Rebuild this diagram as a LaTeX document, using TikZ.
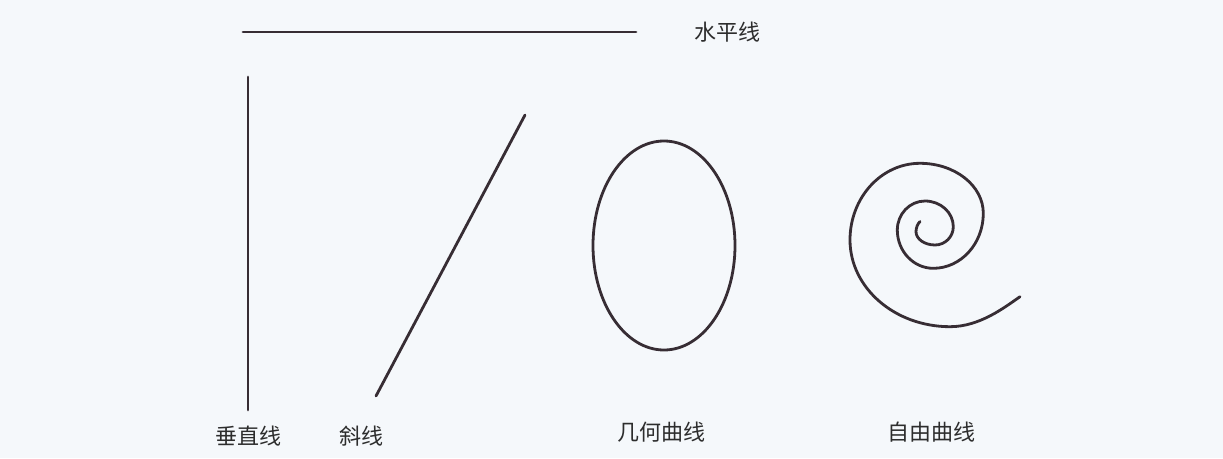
\documentclass[tikz,border=0pt]{standalone}
\usepackage{fontspec}
\newfontfamily\cjk{Noto Sans CJK SC}
\definecolor{bgc}{RGB}{245,248,251}
\definecolor{linec}{RGB}{55,45,52}
\definecolor{textc}{RGB}{45,45,45}
\tikzset{
  stroke/.style={draw=linec, line width=2.8pt, line cap=round},
  lbl/.style={text=textc, font=\cjk\fontsize{22}{22}\selectfont, inner sep=0pt}
}
\begin{document}
\begin{tikzpicture}[x=1pt,y=-1pt]
\fill[bgc] (0,0) rectangle (1223,458);
\useasboundingbox (0,0) rectangle (1223,458);
% horizontal
\draw[stroke] (243,32) -- (636,32);
\node[lbl] (h) at (727,32) {水平线};
% vertical
\draw[stroke] (248,77) -- (248,410);
\node[lbl] (v) at (248,436) {垂直线};
% oblique
\draw[stroke] (376,396) -- (525,115);
\node[lbl] (o) at (361,436) {斜线};
% ellipse
\draw[stroke] (664,245.5) ellipse [x radius=71, y radius=104.5];
\node[lbl] (g) at (661,432) {几何曲线};
% spiral
\draw[stroke] (920,221.5)
  .. controls (917.5,224) and (916,228) .. (916,231.7)
  .. controls (916,239.0) and (924.5,245) .. (935,245)
  .. controls (945.1,245) and (953.3,236.8) .. (953.3,226.7)
  .. controls (953.3,212.5) and (940.6,201) .. (925,201)
  .. controls (909.7,201) and (897.3,214.0) .. (897.3,230)
  .. controls (897.3,251.2) and (913.4,268.3) .. (933.3,268.3)
  .. controls (960.9,268.3) and (983.3,243.7) .. (983.3,213.3)
  .. controls (983.3,185.7) and (955.0,163.3) .. (920,163.3)
  .. controls (881.3,163.3) and (850,197.6) .. (850,240)
  .. controls (850,287.9) and (894.8,326.7) .. (950,326.7)
  .. controls (980,326.7) and (1005,307) .. (1020,296.7);
\node[lbl] (f) at (931,432) {自由曲线};
\end{tikzpicture}
\end{document}
